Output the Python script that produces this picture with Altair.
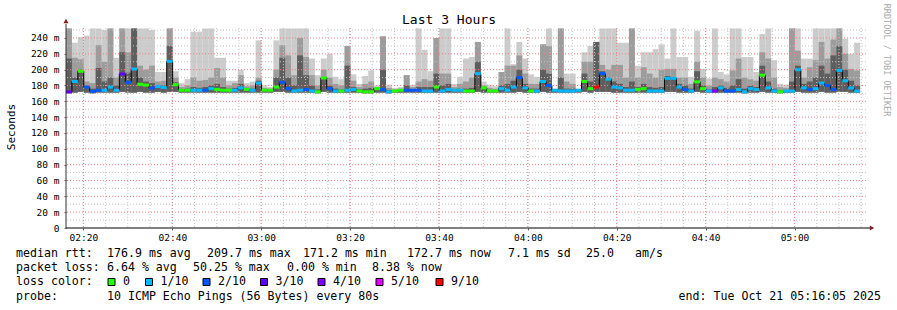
import altair as alt
import pandas as pd
from datetime import datetime, timezone, timedelta

# ---------------- data ----------------
START = datetime(2025, 10, 21, 2, 16, 5, tzinfo=timezone.utc)
STEP_S = 80
SPAN_H = 3

median_ms = [172, 185, 198, 178, 172.5, 174, 174, 178, 174, 194.5,
             184, 200.8, 181.6, 180.5, 176.8, 178.7, 177.5, 210.5, 181, 174,
             174, 174, 174, 174, 176, 175, 174, 174, 174, 177,
             175, 174, 183, 174, 174, 178, 184, 176, 173, 174,
             175, 173, 172, 189.5, 176, 173, 173, 174, 175, 173,
             172, 172, 176, 175, 172, 173, 174, 174, 174, 174,
             173, 173, 178, 173, 175, 174, 174, 173, 173, 195,
             177, 173, 173, 176, 174, 178, 190, 177, 173, 173,
             185, 180, 174, 173, 173, 173, 174, 185, 176, 178,
             195, 188, 178, 177, 174, 174, 175, 176, 173, 173,
             173, 189, 189, 178, 175, 173, 184.6, 176, 173, 173,
             177, 173, 173, 175, 172, 176, 175, 193, 177, 173,
             172, 173, 173, 200, 177, 175, 176, 183, 180, 175,
             199, 186, 177, 173]

loss_count = [3, 1, 0, 2, 2, 2, 1, 1, 1, 3,
              2, 1, 0, 0, 2, 1, 1, 1, 0, 0,
              0, 1, 1, 2, 1, 0, 0, 0, 1, 1,
              0, 1, 1, 0, 0, 0, 2, 2, 1, 1,
              2, 1, 0, 0, 2, 1, 0, 1, 1, 0,
              0, 0, 0, 2, 1, 0, 0, 2, 2, 2,
              1, 1, 0, 1, 1, 1, 1, 0, 0, 1,
              0, 0, 0, 1, 1, 1, 2, 1, 0, 1,
              1, 2, 1, 1, 1, 1, 1, 0, 0, 9,
              2, 1, 1, 1, 1, 1, 0, 0, 1, 1,
              1, 1, 1, 1, 2, 1, 0, 0, 1, 4,
              1, 2, 2, 1, 1, 1, 1, 0, 1, 1,
              0, 1, 1, 1, 1, 2, 1, 1, 2, 2,
              1, 1, 1, 1]

smoke_max = [252, 234, 241, 243, 252, 252, 250, 252, 215, 252,
             252, 252, 252, 252, 250, 197, 197, 252, 198, 183,
             188, 248, 248, 252, 252, 215, 215, 186, 186, 200,
             183, 185, 237, 180, 178, 237, 252, 252, 252, 252,
             252, 214, 193, 214, 220, 191, 188, 230, 194, 182,
             192, 199, 180, 242, 181, 177, 178, 193, 181, 252,
             225, 198, 240, 252, 252, 182, 191, 214, 216, 235,
             185, 181, 179, 197, 252, 207, 235, 214, 194, 191,
             232, 252, 176, 252, 195, 195, 176, 222, 230, 235,
             252, 252, 252, 234, 234, 252, 205, 222, 222, 226,
             232, 214, 252, 216, 216, 191, 249, 201, 189, 252,
             197, 194, 252, 252, 216, 216, 197, 245, 252, 212,
             182, 181, 252, 252, 214, 214, 252, 252, 252, 252,
             252, 239, 220, 234]

smoke_mid = [252, 215, 213, 185, 183, 231, 210, 252, 190, 252,
             222, 252, 205, 200, 205, 185, 186, 252, 190, 178,
             180, 190, 186, 187, 190, 202, 190, 180, 183, 193,
             179, 180, 190, 177, 176, 200, 231, 218, 193, 240,
             216, 193, 180, 200, 190, 182, 180, 230, 186, 178,
             182, 185, 178, 242, 177, 175, 176, 193, 178, 185,
             188, 186, 240, 195, 195, 178, 182, 185, 190, 235,
             180, 177, 176, 197, 205, 205, 218, 195, 182, 182,
             232, 230, 175, 252, 185, 182, 175, 210, 210, 235,
             206, 200, 206, 206, 190, 252, 190, 203, 195, 190,
             200, 201, 201, 190, 190, 182, 210, 190, 180, 190,
             188, 185, 199, 214, 190, 188, 186, 222, 214, 190,
             178, 177, 252, 224, 190, 203, 212, 235, 214, 238,
             252, 220, 201, 199]

smoke_dark = [214, 190, 200, 178, 176, 202, 185, 190, 180, 222,
              196, 252, 190, 185, 183, 180, 180, 230, 184, 175,
              176, 178, 177, 178, 180, 182, 178, 176, 177, 182,
              176, 176, 186, 175, 174, 190, 215, 190, 180, 218,
              193, 180, 175, 190, 180, 176, 175, 205, 178, 175,
              176, 177, 176, 200, 174, 174, 174, 180, 175, 178,
              178, 178, 195, 180, 182, 175, 176, 176, 177, 210,
              177, 174, 174, 180, 182, 186, 200, 182, 176, 176,
              200, 195, 174, 190, 176, 176, 174, 195, 185, 235,
              198, 190, 185, 182, 178, 185, 178, 182, 178, 177,
              178, 192, 190, 182, 180, 176, 198, 180, 175, 178,
              180, 177, 180, 188, 176, 180, 178, 205, 185, 176,
              174, 174, 185, 205, 182, 185, 190, 205, 195, 218,
              230, 200, 186, 180]

smoke_min = [170, 171, 172, 171, 170, 171, 171, 171, 171, 172,
             171, 171, 172, 171, 171, 172, 171, 172, 172, 171,
             171, 171, 171, 171, 171, 171, 171, 171, 171, 171,
             171, 171, 171, 171, 171, 172, 172, 171, 171, 171,
             171, 171, 170, 172, 171, 171, 171, 171, 171, 171,
             170, 170, 171, 171, 170, 171, 171, 171, 171, 171,
             171, 171, 171, 171, 171, 171, 171, 171, 171, 172,
             171, 171, 171, 171, 171, 171, 172, 171, 171, 171,
             172, 171, 171, 171, 171, 171, 171, 172, 171, 172,
             172, 172, 171, 171, 171, 171, 171, 171, 171, 171,
             171, 172, 172, 171, 171, 171, 172, 171, 171, 171,
             171, 171, 171, 171, 170, 171, 171, 172, 171, 171,
             170, 171, 171, 172, 171, 171, 171, 172, 171, 171,
             172, 172, 171, 171]

LOSS_NAMES = ["0", "1/10", "2/10", "3/10", "4/10", "5/10", "9/10"]
LOSS_VALUES = [0, 1, 2, 3, 4, 5, 9]
LOSS_COLORS = ["#26ff00", "#00b8ff", "#0059ff", "#5e00ff", "#7e00ff", "#dd00ff", "#ff0000"]

Y_TICKS = [0, 20, 40, 60, 80, 100, 120, 140, 160, 180, 200, 220, 240]
Y_MINOR = [10, 30, 50, 70, 90, 110, 130, 150, 170, 190, 210, 230, 250]
Y_TOP = 252.6

stats_rtt = ["median rtt:", "176.9 ms avg", "209.7 ms max", "171.2 ms min",
             "172.7 ms now", "7.1 ms sd", "25.0", "am/s"]
stats_loss = ["packet loss:", "6.64 % avg", "50.25 % max", "0.00 % min", "8.38 % now"]
probe_texts = ["probe:", "10 ICMP Echo Pings (56 Bytes) every 80s"]
end_text = "end: Tue Oct 21 05:16:05 2025"
title_text = "Last 3 Hours"
y_title = "Seconds"
side_text = "RRDTOOL / TOBI OETIKER"

# ---------------- tables ----------------
def iso(dt):
    return dt.strftime("%Y-%m-%dT%H:%M:%SZ")

n = len(median_ms)
name_of = dict(zip(LOSS_VALUES, LOSS_NAMES))
df = pd.DataFrame({
    "t0": [iso(START + timedelta(seconds=STEP_S * i)) for i in range(n)],
    "t1": [iso(START + timedelta(seconds=STEP_S * (i + 1))) for i in range(n)],
    "med": median_ms,
    "loss": [name_of[v] for v in loss_count],
    "smax": smoke_max,
    "smid": smoke_mid,
    "sdark": smoke_dark,
    "smin": smoke_min,
})

END = START + timedelta(hours=SPAN_H)
first_tick = datetime(2025, 10, 21, 2, 20, tzinfo=timezone.utc)
major_times = [first_tick + timedelta(minutes=20 * k) for k in range(9)]
minor_times = [first_tick + timedelta(minutes=5 * k) for k in range(36)]
ms = lambda d: int(d.timestamp() * 1000)

xscale = alt.Scale(type="utc", domain=[ms(START), ms(END)], nice=False)
yscale = alt.Scale(domain=[0, Y_TOP], nice=False, zero=False)

MONO = "DejaVu Sans Mono"
NBSP = "\u00a0"

xaxis = alt.Axis(values=[ms(t) for t in major_times],
                 labelExpr="utcFormat(datum.value, '%H:%M')",
                 labelFont=MONO, labelFontSize=9.5, labelColor="#000",
                 tickSize=2, tickColor="#666", labelPadding=2,
                 domain=False, grid=False, title=None, labelFlush=False)
yaxis = alt.Axis(values=Y_TICKS,
                 labelExpr=f"datum.value == 0 ? '0{NBSP}{NBSP}' : datum.value + ' m'",
                 labelFont=MONO, labelFontSize=9.5, labelColor="#000",
                 tickSize=2, tickColor="#666", labelPadding=5,
                 domain=False, grid=False, title=None)


def X(field):
    return alt.X(field, scale=xscale, axis=xaxis, title=None)


def Y(field):
    return alt.Y(field, scale=yscale, axis=yaxis, title=None)


base = alt.Chart(df)

light = base.mark_rect(color="#cccccc", clip=True).encode(
    x=X("t0:T"), x2="t1:T", y=Y("smin:Q"), y2="smax:Q")
mid = base.mark_rect(color="#9c9c9c", clip=True).encode(
    x=X("t0:T"), x2="t1:T", y=Y("smin:Q"), y2="smid:Q")
dark = base.mark_rect(color="#5e5e5e", clip=True).encode(
    x=X("t0:T"), x2="t1:T", y=Y("smin:Q"), y2="sdark:Q")

gx_minor = alt.Chart(pd.DataFrame({"t": [iso(t) for t in minor_times]})).mark_rule(
    color="#c4c4c4", strokeDash=[1, 2], strokeWidth=1).encode(x=X("t:T"))
gy_minor = alt.Chart(pd.DataFrame({"v": Y_MINOR})).mark_rule(
    color="#c4c4c4", strokeDash=[1, 2], strokeWidth=1).encode(y=Y("v:Q"))
gx_major = alt.Chart(pd.DataFrame({"t": [iso(t) for t in major_times]})).mark_rule(
    color="#f08080", strokeDash=[1, 2], strokeWidth=1).encode(x=X("t:T"))
gy_major = alt.Chart(pd.DataFrame({"v": Y_TICKS[1:]})).mark_rule(
    color="#f08080", strokeDash=[1, 2], strokeWidth=1).encode(y=Y("v:Q"))

med_line = base.mark_line(interpolate="step-after", color="#000000", strokeWidth=1).encode(
    x=X("t0:T"), y=Y("med:Q"))
med_col = base.mark_rule(strokeWidth=3).encode(
    x=X("t0:T"), x2="t1:T", y=Y("med:Q"),
    color=alt.Color("loss:N", scale=alt.Scale(domain=LOSS_NAMES, range=LOSS_COLORS), legend=None))

one = pd.DataFrame({"k": [0]})
W, H = 800, 200
OX, OY = 66, 28   # page position of the plot origin

axis_left = alt.Chart(one).mark_rule(color="#333333", strokeWidth=1).encode(
    x=alt.value(0), y=alt.value(-4), y2=alt.value(H))
axis_bottom = alt.Chart(one).mark_rule(color="#000000", strokeWidth=1).encode(
    x=alt.value(0), x2=alt.value(W + 4), y=alt.value(H))
arrow_up = alt.Chart(one).mark_point(shape="triangle-up", filled=True, color="#8b2020",
                                     size=26, opacity=1).encode(x=alt.value(0), y=alt.value(-7))
arrow_right = alt.Chart(one).mark_point(shape="triangle-right", filled=True, color="#8b2020",
                                        size=26, opacity=1).encode(x=alt.value(W + 6), y=alt.value(H))


def txt(s, x, y, size=11.6, align="left", angle=0, color="#000000"):
    return alt.Chart(one).mark_text(font=MONO, fontSize=size, align=align, baseline="middle",
                                    angle=angle, color=color).encode(
        x=alt.value(x - OX), y=alt.value(y - OY), text=alt.value(s))


texts = [
    txt(title_text, 449, 20, size=13, align="center"),
    txt(y_title, 12, 127, size=11, align="center", angle=270),
    txt(side_text, 887, 60, size=8.5, align="center", angle=90, color="#aaaaaa"),
]
for s, x in zip(stats_rtt, [16, 107, 207, 303, 407, 508, 586, 635]):
    texts.append(txt(s, x, 254))
for s, x in zip(stats_loss, [16, 107, 193, 287, 372]):
    texts.append(txt(s, x, 268))
texts.append(txt("loss color:", 16, 282))
box_x = [108, 145.5, 203, 260.5, 318, 376, 436]
for name, col, bx in zip(LOSS_NAMES, LOSS_COLORS, box_x):
    texts.append(alt.Chart(one).mark_rect(color=col, stroke="#000000", strokeWidth=1).encode(
        x=alt.value(bx - OX), x2=alt.value(bx + 7 - OX),
        y=alt.value(278.5 - OY), y2=alt.value(285.5 - OY)))
    texts.append(txt(name, bx + 15, 282))
texts.append(txt(probe_texts[0], 16, 296.5))
texts.append(txt(probe_texts[1], 107, 296.5))
texts.append(txt(end_text, 881, 296.5, align="right"))

chart = alt.layer(
    light, mid, dark,
    gx_minor, gy_minor, gx_major, gy_major,
    med_line, med_col,
    axis_left, axis_bottom, arrow_up, arrow_right,
    *texts
).properties(
    width=W, height=H,
    padding={"left": OX, "top": OY, "right": 897 - OX - W, "bottom": 310 - OY - H},
    autosize=alt.AutoSizeParams(type="none"),
    background="white",
).configure_view(strokeWidth=0)

chart.save("out.html", embed_options={"renderer": "svg", "actions": False})
